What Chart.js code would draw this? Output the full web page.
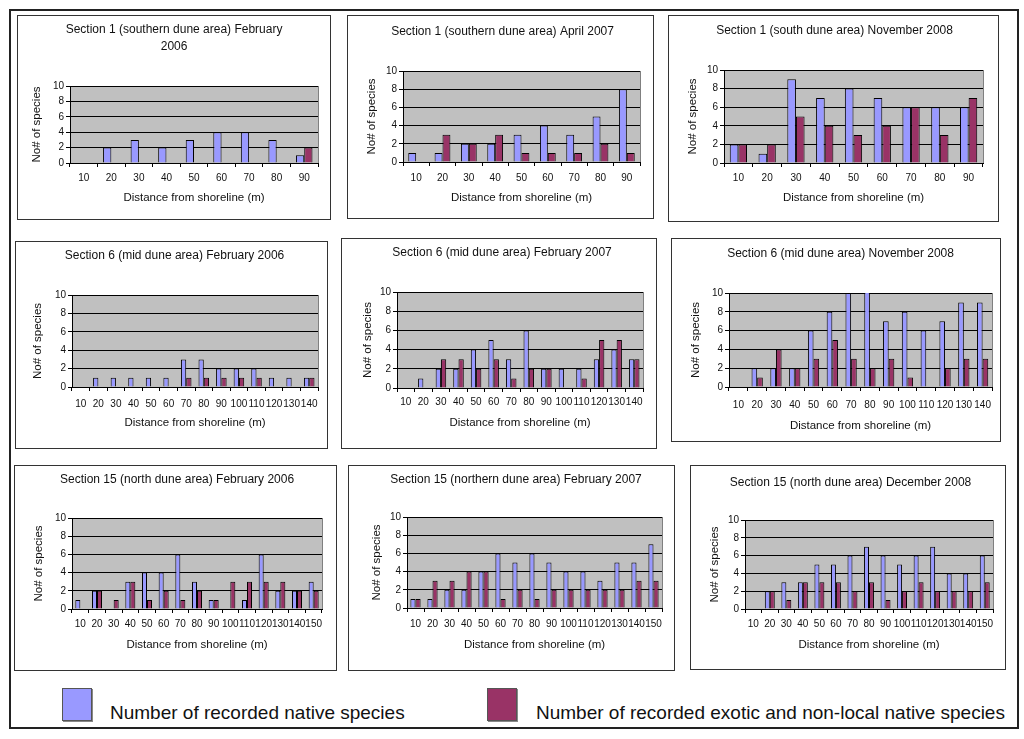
<!DOCTYPE html>
<html><head><meta charset="utf-8">
<script src="https://cdn.jsdelivr.net/npm/chart.js@4.4.1/dist/chart.umd.min.js"></script>
<style>
body{margin:0;background:#fff;width:1024px;height:739px;position:relative;overflow:hidden;font-family:'Liberation Sans',Arial,sans-serif;}
#frame{position:absolute;left:9px;top:9px;width:1010px;height:720px;border:2px solid #222;box-sizing:border-box;}
.panel{position:absolute;border:1px solid #333;box-sizing:border-box;background:#fff;}
.panel canvas{position:absolute;left:0;top:0;}
.lgbox{position:absolute;width:30px;height:33px;border:1px solid #555;box-sizing:border-box;box-shadow:1px 1px 0 #888;}
.lgtxt{position:absolute;font-size:19px;color:#111;white-space:nowrap;line-height:22px;}
</style></head><body>
<div id="frame"></div>
<div class="lgbox" style="left:62px;top:688px;background:#9999ff"></div>
<div class="lgtxt" style="left:110px;top:702px">Number of recorded native species</div>
<div class="lgbox" style="left:487px;top:688px;background:#993366"></div>
<div class="lgtxt" style="left:536px;top:702px">Number of recorded exotic and non-local native species</div>
<script>
// ---- categories ----
const cats9 = ['10','20','30','40','50','60','70','80','90'];
const cats14 = ['10','20','30','40','50','60','70','80','90','100','110','120','130','140'];
const cats15 = ['10','20','30','40','50','60','70','80','90','100','110','120','130','140','150'];
const yTicks = [0,2,4,6,8,10];

// ---- series values ----
const s1Feb2006Native = [0,2,3,2,3,4,4,3,1];
const s1Feb2006Exotic = [0,0,0,0,0,0,0,0,2];
const s1Apr2007Native = [1,1,2,2,3,4,3,5,8];
const s1Apr2007Exotic = [0,3,2,3,1,1,1,2,1];
const s1Nov2008Native = [2,1,9,7,8,7,6,6,6];
const s1Nov2008Exotic = [2,2,5,4,3,4,6,3,7];
const s6Feb2006Native = [0,1,1,1,1,1,3,3,2,2,2,1,1,1];
const s6Feb2006Exotic = [0,0,0,0,0,0,1,1,1,1,1,0,0,1];
const s6Feb2007Native = [0,1,2,2,4,5,3,6,2,2,2,3,4,3];
const s6Feb2007Exotic = [0,0,3,3,2,3,1,2,2,0,1,5,5,3];
const s6Nov2008Native = [0,2,2,2,6,8,10,11,7,8,6,7,9,9];
const s6Nov2008Exotic = [0,1,4,2,3,5,3,2,3,1,0,2,3,3];
const s15Feb2006Native = [1,2,0,3,4,4,6,3,1,0,1,6,2,2,3];
const s15Feb2006Exotic = [0,2,1,3,1,2,1,2,1,3,3,3,3,2,2];
const s15Feb2007Native = [1,1,2,2,4,6,5,6,5,4,4,3,5,5,7];
const s15Feb2007Exotic = [1,3,3,4,4,1,2,1,2,2,2,2,2,3,3];
const s15Dec2008Native = [0,2,3,3,5,5,6,7,6,5,6,7,4,4,6];
const s15Dec2008Exotic = [0,2,1,3,3,3,2,3,1,2,3,2,2,2,3];

// ---- titles ----
const titles = [
  ['Section 1 (southern dune area) February','2006'],
  'Section 1 (southern dune area) April 2007',
  'Section 1 (south dune area) November 2008',
  'Section 6 (mid dune area) February 2006',
  'Section 6 (mid dune area) February 2007',
  'Section 6 (mid dune area) November 2008',
  'Section 15 (north dune area) February 2006',
  'Section 15 (northern dune area) February 2007',
  'Section 15 (north dune area) December 2008'
];
const seriesNames = ['Number of recorded native species','Number of recorded exotic and non-local native species'];
const xTitle = 'Distance from shoreline (m)';
const yTitle = 'No# of species';

const panelData = [
  [cats9, s1Feb2006Native, s1Feb2006Exotic],
  [cats9, s1Apr2007Native, s1Apr2007Exotic],
  [cats9, s1Nov2008Native, s1Nov2008Exotic],
  [cats14, s6Feb2006Native, s6Feb2006Exotic],
  [cats14, s6Feb2007Native, s6Feb2007Exotic],
  [cats14, s6Nov2008Native, s6Nov2008Exotic],
  [cats15, s15Feb2006Native, s15Feb2006Exotic],
  [cats15, s15Feb2007Native, s15Feb2007Exotic],
  [cats15, s15Dec2008Native, s15Dec2008Exotic]
];

// ---- layout (page px): box [L,T,R,B], plot [L,T,R,B] ----
const layoutDefs = [
  {box:[17,15,331,220], titleY:30, plot:[70,86,318,163], yTitleX:37, xTitleY:198, tickY:178},
  {box:[347,15,654,219], titleY:32, plot:[403,71,640,162], yTitleX:372, xTitleY:198, tickY:178},
  {box:[668,15,999,222], titleY:31, plot:[724,70,983,163], yTitleX:693, xTitleY:198, tickY:178},
  {box:[15,241,328,449], titleY:256, plot:[72,295,318,387], yTitleX:38, xTitleY:423, tickY:404},
  {box:[341,238,657,449], titleY:253, plot:[397,292,643,388], yTitleX:368, xTitleY:423, tickY:402},
  {box:[671,238,1001,442], titleY:254, plot:[729,293,992,387], yTitleX:696, xTitleY:426, tickY:405},
  {box:[14,465,337,671], titleY:480, plot:[72,518,322,609], yTitleX:39, xTitleY:645, tickY:624},
  {box:[348,465,675,671], titleY:480, plot:[407,517,662,608], yTitleX:377, xTitleY:645, tickY:624},
  {box:[690,465,1006,670], titleY:483, plot:[745,520,993,609], yTitleX:715, xTitleY:645, tickY:624}
];

const NATIVE_COLOR = '#9999ff', EXOTIC_COLOR = '#993366';
const TITLE_SIZE = 12, TITLE_LH = 1.4, AX_SIZE = 11.5, TICK_SIZE = 10;
Chart.defaults.font.family = "'Liberation Sans', Arial, sans-serif";

const bgPlugin = {
  id: 'plotBg',
  beforeDraw(chart) {
    const {ctx, chartArea: a} = chart;
    ctx.save();
    ctx.fillStyle = '#c0c0c0';
    ctx.fillRect(a.left, a.top, a.right - a.left, a.bottom - a.top);
    ctx.strokeStyle = '#808080';
    ctx.lineWidth = 1;
    ctx.beginPath();
    ctx.moveTo(a.right + 0.5, a.top);
    ctx.lineTo(a.right + 0.5, a.bottom);
    ctx.stroke();
    ctx.restore();
  }
};

layoutDefs.forEach((p, i) => {
  const [cats, nat, exo] = panelData[i];
  const [L, T, R, B] = p.box;
  const div = document.createElement('div');
  div.className = 'panel';
  Object.assign(div.style, {left: L + 'px', top: T + 'px', width: (R - L) + 'px', height: (B - T) + 'px'});
  const cw = R - L - 2, ch = B - T - 2, cx0 = L + 1, cy0 = T + 1;
  const cv = document.createElement('canvas');
  cv.width = cw; cv.height = ch;
  cv.style.width = cw + 'px'; cv.style.height = ch + 'px';
  div.appendChild(cv);
  document.body.appendChild(div);

  const [PL, PT, PR, PB] = p.plot;
  const pl = PL - cx0, pt = PT - cy0, pr = PR - cx0, pb = PB - cy0;
  const tLH = TITLE_SIZE * TITLE_LH;
  const title = titles[i];
  const n = Array.isArray(title) ? title.length : 1;
  const tPadTop = p.titleY - cy0 - tLH / 2;
  const tPadBot = pt - tPadTop - n * tLH;
  const aLH = AX_SIZE * 1.2;
  const padLeft = p.yTitleX - cx0 - aLH / 2;
  const yW = pl - padLeft;
  const xBottom = p.xTitleY - cy0 + aLH / 2;
  const padBottom = ch - xBottom;
  const xH = xBottom - pb;
  const padRight = cw - pr;
  const xTickPad = Math.max(0, p.tickY - PB - 4 - TICK_SIZE * 0.55);

  new Chart(cv, {
    type: 'bar',
    data: {
      labels: cats,
      datasets: [
        {label: seriesNames[0], data: nat, backgroundColor: NATIVE_COLOR, borderColor: '#000', borderWidth: 1, categoryPercentage: 0.6, barPercentage: 1},
        {label: seriesNames[1], data: exo, backgroundColor: EXOTIC_COLOR, borderColor: '#000', borderWidth: 1, categoryPercentage: 0.6, barPercentage: 1}
      ]
    },
    options: {
      responsive: false,
      animation: false,
      layout: {padding: {left: padLeft, right: padRight, top: 0, bottom: padBottom}},
      plugins: {
        legend: {display: false},
        tooltip: {enabled: false},
        title: {display: true, text: title, color: '#111', font: {size: TITLE_SIZE, weight: 'normal', lineHeight: TITLE_LH}, padding: {top: tPadTop, bottom: tPadBot}}
      },
      scales: {
        x: {
          grid: {display: true, drawOnChartArea: false, drawTicks: true, tickLength: 4, color: '#000', offset: true},
          border: {display: true, color: '#000', width: 1},
          ticks: {color: '#111', font: {size: TICK_SIZE}, autoSkip: false, maxRotation: 0, minRotation: 0, padding: xTickPad},
          title: {display: true, text: xTitle, color: '#111', font: {size: AX_SIZE}, padding: 0},
          afterFit: (s) => { s.height = xH; }
        },
        y: {
          min: 0, max: 10,
          afterBuildTicks: (s) => { s.ticks = yTicks.map(v => ({value: v})); },
          ticks: {color: '#111', font: {size: TICK_SIZE}, padding: 2},
          grid: {color: '#000', tickLength: 4, lineWidth: 1},
          border: {display: true, color: '#000', width: 1},
          title: {display: true, text: yTitle, color: '#111', font: {size: AX_SIZE}, padding: 0},
          afterFit: (s) => { s.width = yW; }
        }
      }
    },
    plugins: [bgPlugin]
  });
});
</script>
</body></html>
